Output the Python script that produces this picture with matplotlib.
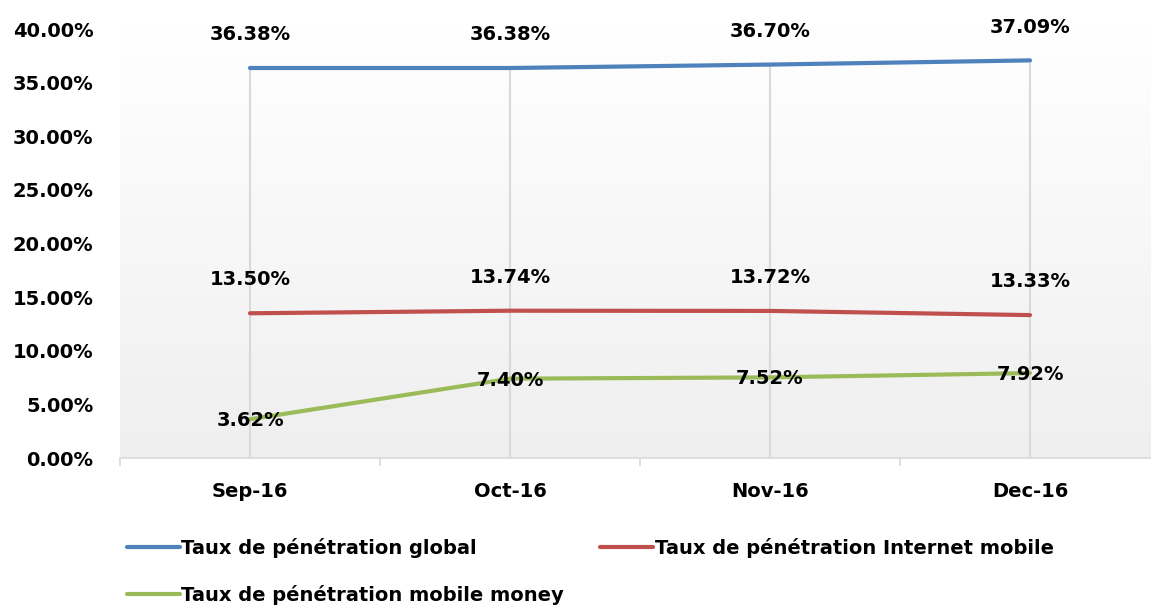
import numpy as np
import matplotlib
matplotlib.use('Agg')
import matplotlib.pyplot as plt
from matplotlib.colors import LinearSegmentedColormap
from matplotlib.ticker import FuncFormatter, FixedLocator

# data
months = ['Sep-16', 'Oct-16', 'Nov-16', 'Dec-16']
taux_global = [36.38, 36.38, 36.70, 37.09]
taux_internet = [13.50, 13.74, 13.72, 13.33]
taux_money = [3.62, 7.40, 7.52, 7.92]
series_names = ['Taux de pénétration global',
                'Taux de pénétration Internet mobile',
                'Taux de pénétration mobile money']

plt.rcParams['font.family'] = 'DejaVu Sans'
plt.rcParams['font.weight'] = 'bold'
fs = 14

fig = plt.figure(figsize=(11.51, 6.09), dpi=100)
ax = fig.add_axes([120 / 1151, 1 - 458 / 609, 1040 / 1151, (458 - 29.2) / 609])

x = np.arange(len(months))
ax.set_xlim(-0.5, 3.5)
ax.set_ylim(0, 40)

# soft gradient background of the plot area
grad = LinearSegmentedColormap.from_list('bg', ['#efefef', '#ffffff'])
ax.imshow(np.linspace(0, 1, 256).reshape(-1, 1), cmap=grad, origin='lower',
          extent=[-0.5, 3.5, 0, 40], aspect='auto', zorder=0)

# drop lines
ax.vlines(x, 0, taux_global, color='#d9d9d9', lw=1.5, zorder=1)

colors = ['#4f81bd', '#c0504d', '#9bbb59']
l1, = ax.plot(x, taux_global, color=colors[0], lw=3, solid_capstyle='round', zorder=3)
l2, = ax.plot(x, taux_internet, color=colors[1], lw=3, solid_capstyle='round', zorder=3)
l3, = ax.plot(x, taux_money, color=colors[2], lw=3, solid_capstyle='round', zorder=3)

for xi, v in zip(x, taux_global):
    ax.annotate('%.2f%%' % v, (xi, v), xytext=(0, 24), textcoords='offset points',
                ha='center', va='center', fontsize=fs, fontweight='bold', zorder=4)
for xi, v in zip(x, taux_internet):
    ax.annotate('%.2f%%' % v, (xi, v), xytext=(0, 24), textcoords='offset points',
                ha='center', va='center', fontsize=fs, fontweight='bold', zorder=4)
for xi, v in zip(x, taux_money):
    ax.annotate('%.2f%%' % v, (xi, v), xytext=(0, -1), textcoords='offset points',
                ha='center', va='center', fontsize=fs, fontweight='bold', zorder=4)

ax.set_yticks(np.arange(0, 41, 5))
ax.yaxis.set_major_formatter(FuncFormatter(lambda v, p: '%.2f%%' % v))
ax.tick_params(axis='y', length=0, pad=19, labelsize=fs)

ax.set_xticks(x)
ax.set_xticklabels(months)
ax.xaxis.set_minor_locator(FixedLocator([-0.5, 0.5, 1.5, 2.5, 3.5]))
ax.tick_params(axis='x', which='major', length=0, pad=17, labelsize=fs)
ax.tick_params(axis='x', which='minor', length=6, color='#d9d9d9', width=1.2)

for s in ['top', 'right', 'left']:
    ax.spines[s].set_visible(False)
ax.spines['bottom'].set_color('#d9d9d9')
ax.spines['bottom'].set_linewidth(1.2)

fig.legend([l1, l3, l2], [series_names[0], series_names[2], series_names[1]],
           ncol=2, loc='upper left', bbox_to_anchor=(127 / 1151, 1 - 538 / 609),
           frameon=False, fontsize=fs, handlelength=2.7, handletextpad=0.1,
           columnspacing=1.85, labelspacing=1.4, borderaxespad=0, borderpad=0)

fig.savefig('out.png', dpi=100)
